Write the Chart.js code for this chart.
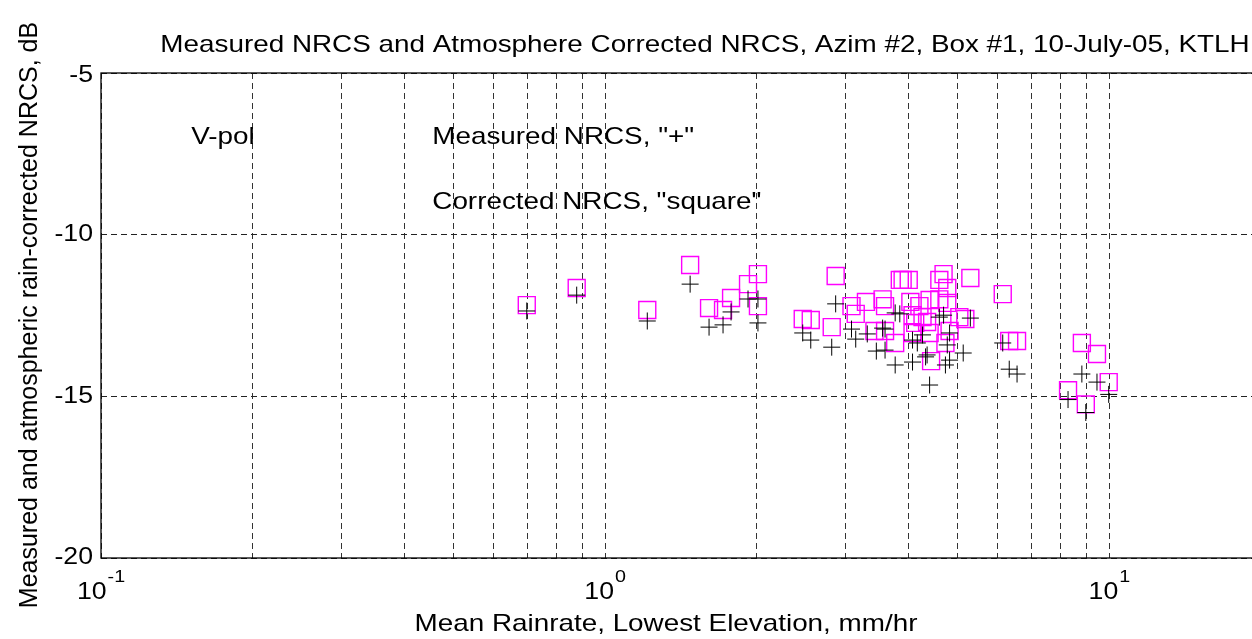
<!DOCTYPE html>
<html>
<head>
<meta charset="utf-8">
<script src="https://cdn.jsdelivr.net/npm/chart.js@4.4.1/dist/chart.umd.min.js"></script>
<style>
  html, body { margin: 0; padding: 0; background: #fff; overflow: hidden; }
  #wrap { width: 1252px; height: 639px; overflow: hidden; }
</style>
</head>
<body>
<div id="wrap"><canvas id="nrcs" width="1330" height="639"></canvas></div>
<script>
// ── Data ────────────────────────────────────────────────────
// Measured NRCS ("+")
const rainMeasured = [
  0.699, 0.878, 1.212, 1.474, 1.607, 1.713, 1.777, 1.920, 2.009, 2.009,
  2.465, 2.557, 2.814, 2.865, 3.08, 3.14, 3.31, 3.45, 3.59, 3.55,
  3.59, 3.76, 3.84, 3.76, 4.07, 4.16, 4.07, 4.32, 4.35, 4.40,
  4.60, 4.69, 4.82, 4.77, 4.73, 4.82, 5.13, 5.30, 4.26,
  6.145, 6.33, 6.56, 8.82, 9.45, 9.97, 8.28, 8.98
];
const nrcsMeasured = [
  -12.36, -11.87, -12.67, -11.53, -12.86, -12.79, -12.39, -11.99, -11.99, -12.73,
  -13.04, -13.26, -13.48, -12.14, -12.92, -13.23, -13.07, -13.60, -13.57, -12.89,
  -12.92, -12.42, -12.45, -14.03, -13.26, -13.35, -13.94, -13.78, -13.72, -14.65,
  -12.55, -12.49, -13.04, -13.41, -14.03, -13.88, -13.66, -12.58, -13.10,
  -13.35, -14.16, -14.31, -14.31, -14.56, -14.94, -15.10, -15.50
];

// Atmosphere corrected NRCS ("square")
const rainCorrected = [
  0.699, 0.878, 1.212, 1.474, 1.607, 1.713, 1.777, 1.920, 2.009, 2.009,
  2.465, 2.557, 2.814, 2.865, 3.08, 3.14, 3.29, 3.55, 3.59, 3.42,
  3.59, 3.76, 3.84, 3.89, 4.00, 4.03, 4.20, 4.07, 4.12, 4.26,
  4.35, 4.40, 4.07, 4.40, 4.43, 4.60, 4.69, 4.77, 4.60, 4.77,
  4.82, 4.73, 5.04, 5.18, 5.30,
  6.145, 6.33, 6.56, 8.82, 9.45, 8.28, 8.98, 9.97
];
const nrcsCorrected = [
  -12.18, -11.65, -12.33, -10.94, -12.27, -12.33, -11.96, -11.53, -11.22, -12.21,
  -12.61, -12.64, -12.86, -11.28, -12.21, -12.45, -12.08, -12.00, -12.21, -12.98,
  -12.98, -13.35, -11.40, -11.40, -11.40, -12.08, -12.21, -12.49, -12.73, -12.55,
  -12.70, -12.02, -13.04, -13.04, -13.91, -11.40, -11.22, -11.65, -12.00, -12.11,
  -12.98, -13.35, -12.55, -12.61, -11.34,
  -11.84, -13.29, -13.29, -13.35, -13.69, -14.81, -15.25, -14.56
];

// Axis limits and grid / tick positions
const xLimits = [0.1, 25];
const yLimits = [-20, -5];
const xGridTicks = [0.1, 0.2, 0.3, 0.4, 0.5, 0.6, 0.7, 0.8, 0.9,
                    1, 2, 3, 4, 5, 6, 7, 8, 9, 10, 20];
const xLabelTicks = [0.1, 1, 10];
const xLabelExps  = ['-1', '0', '1'];
const yTicks = [-20, -15, -10, -5];
const yTickLabels = ['-20', '-15', '-10', '-5'];

// Text annotations (placed in data coordinates)
const notes = [
  { x: 0.151, y: -7.0, text: 'V-pol' },
  { x: 0.454, y: -7.0, text: 'Measured NRCS, "+"' },
  { x: 0.454, y: -9.0, text: 'Corrected NRCS, "square"' }
];

const FONT = '"Liberation Sans", Arial, Helvetica, sans-serif';
const SX = 1.16;   // the original figure text is a bit wider than Arial

const toPoints = (xs, ys) => xs.map((v, i) => ({ x: v, y: ys[i] }));

// draw text stretched horizontally, align = left | center | right
function wideText(ctx, text, x, y, align) {
  const w = ctx.measureText(text).width * SX;
  let left = x;
  if (align === 'center') left = x - w / 2;
  if (align === 'right') left = x - w;
  ctx.save();
  ctx.translate(left, y);
  ctx.scale(SX, 1);
  ctx.textAlign = 'left';
  ctx.fillText(text, 0, 0);
  ctx.restore();
  return w;
}

// ── Frame, tick labels, titles and notes (MATLAB look) ───────
const matlabAxes = {
  id: 'matlabAxes',
  afterDraw(chart) {
    const { ctx, chartArea: a, scales: { x, y } } = chart;
    ctx.save();

    // solid box
    ctx.strokeStyle = '#000';
    ctx.lineWidth = 1.3;
    ctx.strokeRect(a.left, a.top, a.right - a.left, a.bottom - a.top);

    ctx.fillStyle = '#000';

    // y tick labels
    ctx.font = '23px ' + FONT;
    ctx.textBaseline = 'middle';
    yTicks.forEach((v, i) => {
      let py = y.getPixelForValue(v);
      if (v === yLimits[1]) py += 3;
      wideText(ctx, yTickLabels[i], a.left - 8, py, 'right');
    });

    // x tick labels: 10 with superscript exponent
    ctx.textBaseline = 'alphabetic';
    xLabelTicks.forEach((v, i) => {
      const px = x.getPixelForValue(v);
      ctx.font = '23px ' + FONT;
      const wb = ctx.measureText('10').width * SX;
      ctx.font = '17px ' + FONT;
      const we = ctx.measureText(xLabelExps[i]).width * SX;
      const start = px - (wb + we + 1) / 2;
      ctx.font = '23px ' + FONT;
      wideText(ctx, '10', start, a.bottom + 41, 'left');
      ctx.font = '17px ' + FONT;
      wideText(ctx, xLabelExps[i], start + wb + 1, a.bottom + 24, 'left');
    });

    // title and axis labels
    ctx.font = '24px ' + FONT;
    wideText(ctx, 'Measured NRCS and Atmosphere Corrected NRCS, Azim #2, Box #1, 10-July-05, KTLH', 705, 52, 'center');
    wideText(ctx, 'Mean Rainrate, Lowest Elevation, mm/hr', 666, 631, 'center');

    ctx.save();
    ctx.font = '25px ' + FONT;
    ctx.translate(37, 315);
    ctx.rotate(-Math.PI / 2);
    ctx.textAlign = 'center';
    ctx.fillText('Measured and atmospheric rain-corrected NRCS, dB', 0, 0);
    ctx.restore();

    // in-plot notes
    ctx.textBaseline = 'middle';
    ctx.font = '24px ' + FONT;
    notes.forEach(n => {
      wideText(ctx, n.text, x.getPixelForValue(n.x), y.getPixelForValue(n.y), 'left');
    });

    ctx.restore();
  }
};

new Chart(document.getElementById('nrcs'), {
  type: 'scatter',
  data: {
    datasets: [
      {
        label: 'Measured NRCS',
        data: toPoints(rainMeasured, nrcsMeasured),
        pointStyle: 'cross',
        radius: 8.5,
        borderColor: '#000',
        borderWidth: 1,
        backgroundColor: '#000'
      },
      {
        label: 'Corrected NRCS',
        data: toPoints(rainCorrected, nrcsCorrected),
        pointStyle: 'rect',
        radius: 12,
        borderColor: '#ff00ff',
        borderWidth: 1.4,
        backgroundColor: 'rgba(0,0,0,0)'
      }
    ]
  },
  options: {
    responsive: false,
    animation: false,
    events: [],
    layout: { padding: { left: 101, top: 73, right: 20, bottom: 81 } },
    plugins: { legend: { display: false }, tooltip: { enabled: false } },
    scales: {
      x: {
        type: 'logarithmic',
        min: xLimits[0],
        max: xLimits[1],
        afterBuildTicks: s => { s.ticks = xGridTicks.map(v => ({ value: v })); },
        ticks: { display: false },
        grid: { color: '#333', lineWidth: 1, drawTicks: false },
        border: { display: false, dash: [6, 4] }
      },
      y: {
        type: 'linear',
        min: yLimits[0],
        max: yLimits[1],
        afterBuildTicks: s => { s.ticks = yTicks.map(v => ({ value: v })); },
        ticks: { display: false },
        grid: { color: '#222', lineWidth: 1, drawTicks: false },
        border: { display: false, dash: [6, 4] }
      }
    }
  },
  plugins: [matlabAxes]
});
</script>
</body>
</html>
